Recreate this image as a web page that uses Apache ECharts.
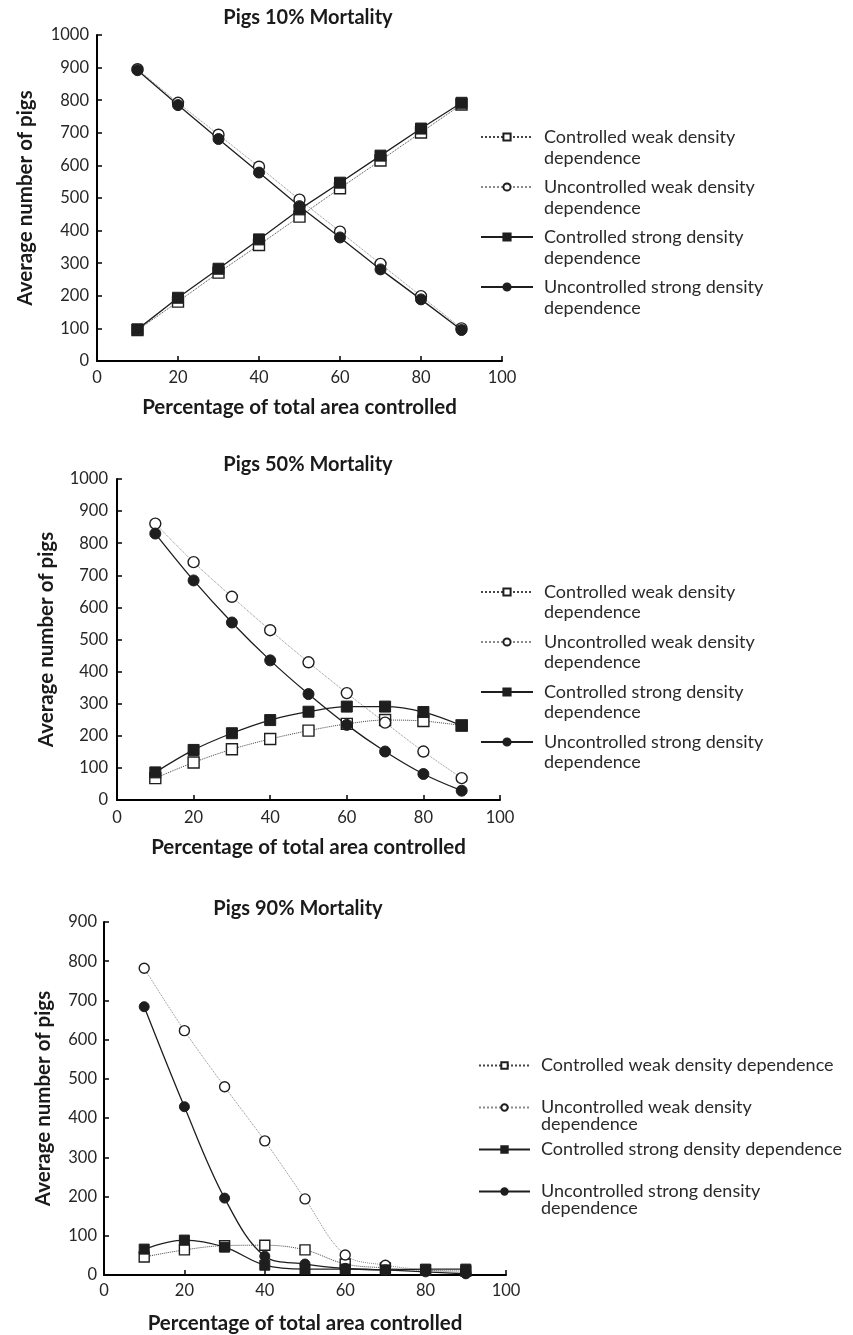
<!DOCTYPE html>
<html><head><meta charset="utf-8">
<script src="https://cdn.jsdelivr.net/npm/echarts@6/dist/echarts.min.js"></script>
<style>html,body{margin:0;padding:0;background:#fff}#c{width:853px;height:1335px}</style>
</head><body><div id="c"></div>
<script>
// ---- data ----
const pct = [10, 20, 30, 40, 50, 60, 70, 80, 90];
const seriesNames = [
  'Controlled weak density dependence',
  'Uncontrolled weak density dependence',
  'Controlled strong density dependence',
  'Uncontrolled strong density dependence'
];
const titles = ['Pigs 10% Mortality', 'Pigs 50% Mortality', 'Pigs 90% Mortality'];
const xTitle = 'Percentage of total area controlled';
const yTitle = 'Average number of pigs';
// 10% mortality
const m10_cw = [95, 182, 271, 356, 443, 530, 615, 701, 787];
const m10_uw = [895, 792, 694, 596, 495, 397, 298, 199, 100];
const m10_cs = [97, 194, 283, 373, 465, 547, 630, 713, 792];
const m10_us = [892, 785, 681, 578, 475, 379, 281, 189, 95];
// 50% mortality
const m50_cw = [68, 117, 158, 190, 216, 237, 249, 246, 232];
const m50_uw = [861, 741, 633, 529, 429, 333, 241, 151, 68];
const m50_cs = [86, 156, 208, 249, 275, 291, 291, 274, 232];
const m50_us = [830, 684, 553, 435, 330, 234, 151, 81, 29];
// 90% mortality
const m90_cw = [46, 64, 75, 76, 64, 28, 18, 12, 10];
const m90_uw = [782, 623, 480, 342, 194, 51, 25, 13, 5];
const m90_cs = [66, 89, 71, 25, 15, 15, 13, 15, 15];
const m90_us = [684, 429, 196, 48, 28, 17, 13, 8, 3];
const yMax = [1000, 1000, 900];
const yInterval = 100;
const xMax = 100, xInterval = 20;
// legend texts per chart
const legendText = [
  ['Controlled weak density\ndependence', 'Uncontrolled weak density\ndependence', 'Controlled strong density\ndependence', 'Uncontrolled strong density\ndependence'],
  ['Controlled weak density\ndependence', 'Uncontrolled weak density\ndependence', 'Controlled strong density\ndependence', 'Uncontrolled strong density\ndependence'],
  ['Controlled weak density dependence', 'Uncontrolled weak density\ndependence', 'Controlled strong density dependence', 'Uncontrolled strong density\ndependence']
];

// ---- layout / style ----
const FONT = 'Lato';
const TXT = '#262626';
const grids = [
  {left: 97, top: 35, width: 405, height: 326},
  {left: 117, top: 479, width: 383, height: 321},
  {left: 104, top: 922, width: 402, height: 353}
];
const titlePos = [{left: 308, top: 8}, {left: 308, top: 455}, {left: 298, top: 899}];
const xNameGap = [36, 37, 38];
const yNameGap = [61, 60, 50];
const labelMargin = [8, 9, 7];
const symSize = [11, 11, 10];
const legendPos = [
  {left: 480, lh: 21, first: 137, spacing: 50, w: 52, h: 9},
  {left: 480, lh: 20, first: 592, spacing: 50, w: 52, h: 9},
  {left: 478, lh: 17, first: 1065, spacing: 41, w: 51, h: 8}
];
const allData = [
  [m10_cw, m10_uw, m10_cs, m10_us],
  [m50_cw, m50_uw, m50_cs, m50_us],
  [m90_cw, m90_uw, m90_cs, m90_us]
];
const styles = [
  {symbol: 'rect', open: true, line: {color: '#444', width: 1, type: 'dotted'}},
  {symbol: 'circle', open: true, line: {color: '#8a8a8a', width: 1, type: 'dotted'}},
  {symbol: 'rect', open: false, line: {color: '#1e1e1e', width: 1.3, type: 'solid'}},
  {symbol: 'circle', open: false, line: {color: '#1e1e1e', width: 1.3, type: 'solid'}}
];

const option = {
  animation: false,
  backgroundColor: '#fff',
  textStyle: {fontFamily: FONT},
  title: [], grid: [], xAxis: [], yAxis: [], legend: [], series: []
};

for (let c = 0; c < 3; c++) {
  option.title.push({
    text: titles[c], left: titlePos[c].left, top: titlePos[c].top, textAlign: 'center', padding: 0,
    textStyle: {fontFamily: FONT, fontWeight: 'bold', fontSize: 20, color: '#1a1a1a'}
  });
  option.grid.push(Object.assign({outerBoundsMode: 'none', containLabel: false}, grids[c]));
  const axisCommon = {
    axisLine: {show: true, lineStyle: {color: '#000', width: 2}},
    axisTick: {show: true, inside: true, length: 5, lineStyle: {color: '#000', width: 1.5}},
    splitLine: {show: false},
    axisLabel: {fontFamily: FONT, fontSize: 16.5, color: TXT, margin: labelMargin[c], formatter: v => String(v)},
    nameLocation: 'middle',
    nameTextStyle: {fontFamily: FONT, fontWeight: 'bold', fontSize: 20.5, color: '#1a1a1a'}
  };
  option.xAxis.push(Object.assign({}, axisCommon, {
    type: 'value', gridIndex: c, min: 0, max: xMax, interval: xInterval,
    name: xTitle, nameGap: xNameGap[c]
  }));
  option.yAxis.push(Object.assign({}, axisCommon, {
    type: 'value', gridIndex: c, min: 0, max: yMax[c], interval: yInterval,
    name: yTitle, nameGap: yNameGap[c], nameRotate: 90
  }));
  const lp = legendPos[c];
  const boxH = 3 * lp.lh;
  option.legend.push({
    orient: 'vertical', left: lp.left, top: lp.first - boxH / 2, padding: 0,
    itemWidth: lp.w, itemHeight: lp.h, itemGap: lp.spacing - boxH,
    selectedMode: false,
    data: seriesNames,
    formatter: (function (cc) {
      return function (name) {
        const t = legendText[cc][seriesNames.indexOf(name)];
        return t.indexOf('\n') >= 0 ? '\n' + t : '\n' + t + '\n';
      };
    })(c),
    textStyle: {fontFamily: FONT, fontSize: 18, color: '#2a2a2a', lineHeight: lp.lh, padding: [0, 0, 0, 6]}
  });
  for (let s = 0; s < 4; s++) {
    const st = styles[s];
    option.series.push({
      type: 'line', name: seriesNames[s], xAxisIndex: c, yAxisIndex: c,
      data: pct.map((x, i) => [x, allData[c][s][i]]),
      symbol: st.symbol, symbolSize: symSize[c], showAllSymbol: true,
      smooth: c === 0 ? false : 0.35,
      lineStyle: st.line,
      itemStyle: st.open
        ? {color: '#fff', borderColor: '#1e1e1e', borderWidth: 1.4}
        : {color: '#1e1e1e', borderColor: '#1e1e1e', borderWidth: 1},
      emphasis: {disabled: true}
    });
  }
}

const chart = echarts.init(document.getElementById('c'), null, {renderer: 'canvas'});
chart.setOption(option);
</script>
</body></html>
